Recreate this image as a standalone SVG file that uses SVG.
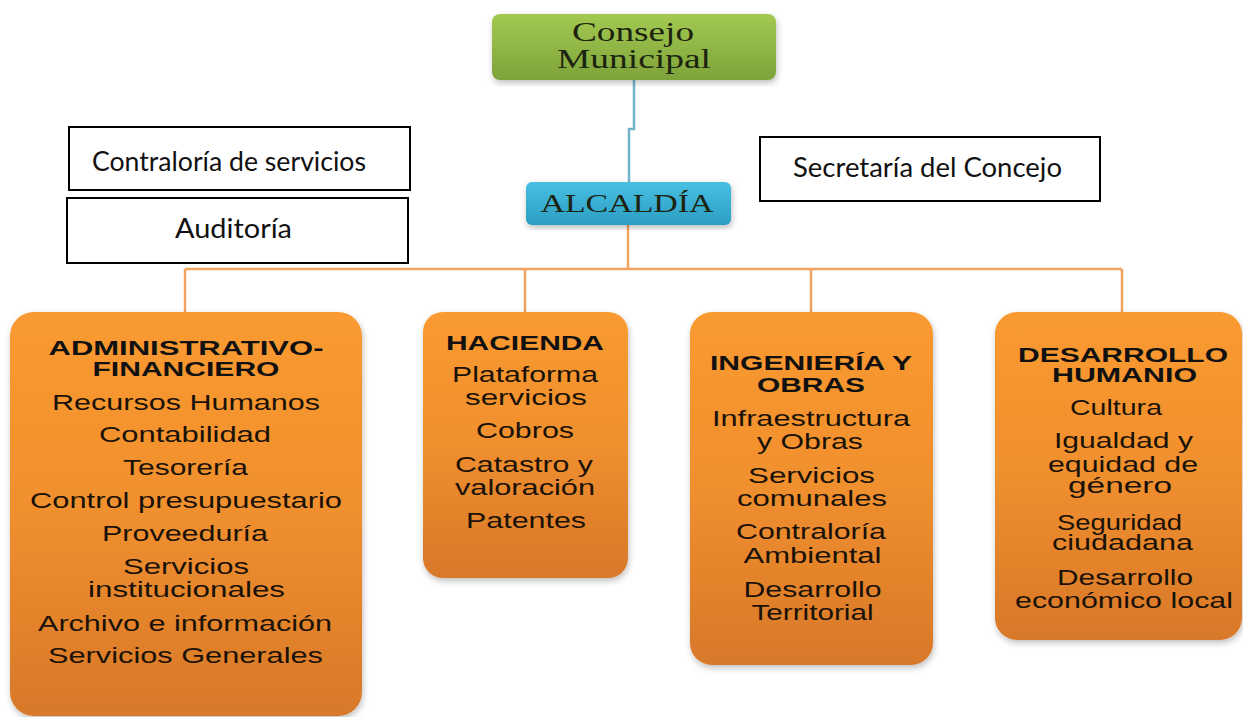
<svg xmlns="http://www.w3.org/2000/svg" width="1243" height="717" viewBox="0 0 1243 717">
<style>
.conn-blue{fill:none;stroke:#6fb3c9;stroke-width:2.5}
.conn-or{fill:none;stroke:#f0a35e;stroke-width:2.5}
.side{fill:#fff;stroke:#000;stroke-width:2}
.side-t{font-family:Lato,"Liberation Sans",sans-serif;font-size:27px;fill:#111}
.serif-t{font-family:"Liberation Serif","DejaVu Serif",serif;fill:#1c2410}
.dept{fill:url(#gOr);filter:url(#sh)}
.b{font-family:"Liberation Sans",Arial,sans-serif;font-weight:bold;font-size:21px;fill:#111;text-anchor:middle}
.r{font-family:"Liberation Sans",Arial,sans-serif;font-size:22px;fill:#1a1208;text-anchor:middle}
</style>
<defs>
<linearGradient id="gOr" x1="0" y1="0" x2="0" y2="1">
<stop offset="0" stop-color="#fa9a30"/>
<stop offset="0.5" stop-color="#f08f2e"/>
<stop offset="1" stop-color="#d8782a"/>
</linearGradient>
<linearGradient id="gGr" x1="0" y1="0" x2="0" y2="1">
<stop offset="0" stop-color="#a2c951"/>
<stop offset="1" stop-color="#7ea33a"/>
</linearGradient>
<linearGradient id="gBl" x1="0" y1="0" x2="0" y2="1">
<stop offset="0" stop-color="#48c0e2"/>
<stop offset="1" stop-color="#2b9dc3"/>
</linearGradient>
<filter id="sh" x="-10%" y="-10%" width="120%" height="120%">
<feDropShadow dx="1" dy="3" stdDeviation="3" flood-color="#000" flood-opacity="0.25"/>
</filter>
</defs>

<g id="connectors">
<path class="conn-blue" d="M634,80 V129 H629 V182"/>
<path class="conn-or" d="M628,225 V269"/>
<path class="conn-or" d="M185,269 H1122"/>
<path class="conn-or" d="M185,269 V312"/>
<path class="conn-or" d="M525,269 V312"/>
<path class="conn-or" d="M811,269 V312"/>
<path class="conn-or" d="M1122,269 V312"/>
</g>

<g id="consejo">
<rect x="492" y="14" width="284" height="66" rx="8" fill="url(#gGr)" filter="url(#sh)"/>
<text class="serif-t" x="633" y="41" font-size="28" text-anchor="middle" textLength="122" lengthAdjust="spacingAndGlyphs">Consejo</text>
<text class="serif-t" x="634" y="68" font-size="28" text-anchor="middle" textLength="154" lengthAdjust="spacingAndGlyphs">Municipal</text>
</g>

<g id="alcaldia">
<rect x="526" y="182" width="205" height="43" rx="6" fill="url(#gBl)" filter="url(#sh)"/>
<text class="serif-t" x="627" y="212" font-size="25" text-anchor="middle" textLength="173" lengthAdjust="spacingAndGlyphs" fill="#10283a">ALCALDÍA</text>
</g>

<g id="contraloria">
<rect class="side" x="69" y="127" width="341" height="63"/>
<text class="side-t" x="92" y="171" textLength="274" lengthAdjust="spacingAndGlyphs">Contraloría de servicios</text>
</g>

<g id="auditoria">
<rect class="side" x="67" y="198" width="341" height="65"/>
<text class="side-t" x="233.5" y="238" text-anchor="middle" textLength="117" lengthAdjust="spacingAndGlyphs">Auditoría</text>
</g>

<g id="secretaria">
<rect class="side" x="760" y="137" width="340" height="64"/>
<text class="side-t" x="793" y="177" textLength="269" lengthAdjust="spacingAndGlyphs">Secretaría del Concejo</text>
</g>

<g id="administrativo">
<rect class="dept" x="10" y="312" width="352" height="404" rx="24"/>
<text class="b" x="186" y="355" textLength="275" lengthAdjust="spacingAndGlyphs">ADMINISTRATIVO-</text>
<text class="b" x="186" y="376" textLength="187" lengthAdjust="spacingAndGlyphs">FINANCIERO</text>
<text class="r" x="186" y="410" textLength="268" lengthAdjust="spacingAndGlyphs">Recursos Humanos</text>
<text class="r" x="185" y="442" textLength="172" lengthAdjust="spacingAndGlyphs">Contabilidad</text>
<text class="r" x="185.5" y="475" textLength="125" lengthAdjust="spacingAndGlyphs">Tesorería</text>
<text class="r" x="186" y="508" textLength="312" lengthAdjust="spacingAndGlyphs">Control presupuestario</text>
<text class="r" x="185" y="541" textLength="166" lengthAdjust="spacingAndGlyphs">Proveeduría</text>
<text class="r" x="186" y="574" textLength="126" lengthAdjust="spacingAndGlyphs">Servicios</text>
<text class="r" x="186.5" y="597" textLength="197" lengthAdjust="spacingAndGlyphs">institucionales</text>
<text class="r" x="185" y="631" textLength="294" lengthAdjust="spacingAndGlyphs">Archivo e información</text>
<text class="r" x="185.5" y="663" textLength="275" lengthAdjust="spacingAndGlyphs">Servicios Generales</text>
</g>

<g id="hacienda">
<rect class="dept" x="423" y="312" width="205" height="266" rx="20"/>
<text class="b" x="525" y="350" textLength="158" lengthAdjust="spacingAndGlyphs">HACIENDA</text>
<text class="r" x="525" y="382" textLength="146" lengthAdjust="spacingAndGlyphs">Plataforma</text>
<text class="r" x="526" y="405" textLength="122" lengthAdjust="spacingAndGlyphs">servicios</text>
<text class="r" x="525" y="438" textLength="98" lengthAdjust="spacingAndGlyphs">Cobros</text>
<text class="r" x="524" y="472" textLength="138" lengthAdjust="spacingAndGlyphs">Catastro y</text>
<text class="r" x="525" y="495" textLength="140" lengthAdjust="spacingAndGlyphs">valoración</text>
<text class="r" x="526" y="528" textLength="120" lengthAdjust="spacingAndGlyphs">Patentes</text>
</g>

<g id="ingenieria">
<rect class="dept" x="690" y="312" width="243" height="353" rx="22"/>
<text class="b" x="811" y="370" textLength="202" lengthAdjust="spacingAndGlyphs">INGENIERÍA Y</text>
<text class="b" x="811" y="392" textLength="108" lengthAdjust="spacingAndGlyphs">OBRAS</text>
<text class="r" x="811" y="426" textLength="198" lengthAdjust="spacingAndGlyphs">Infraestructura</text>
<text class="r" x="810" y="449" textLength="106" lengthAdjust="spacingAndGlyphs">y Obras</text>
<text class="r" x="811.5" y="483" textLength="127" lengthAdjust="spacingAndGlyphs">Servicios</text>
<text class="r" x="812" y="506" textLength="150" lengthAdjust="spacingAndGlyphs">comunales</text>
<text class="r" x="811" y="539" textLength="150" lengthAdjust="spacingAndGlyphs">Contraloría</text>
<text class="r" x="812.5" y="563" textLength="138" lengthAdjust="spacingAndGlyphs">Ambiental</text>
<text class="r" x="812.5" y="597" textLength="138" lengthAdjust="spacingAndGlyphs">Desarrollo</text>
<text class="r" x="812.5" y="620" textLength="122" lengthAdjust="spacingAndGlyphs">Territorial</text>
</g>

<g id="desarrollo">
<rect class="dept" x="995" y="312" width="247" height="328" rx="22"/>
<text class="b" x="1123" y="362" textLength="210" lengthAdjust="spacingAndGlyphs">DESARROLLO</text>
<text class="b" x="1124.5" y="382" textLength="145" lengthAdjust="spacingAndGlyphs">HUMANIO</text>
<text class="r" x="1116" y="415" textLength="92" lengthAdjust="spacingAndGlyphs">Cultura</text>
<text class="r" x="1123.5" y="448" textLength="139" lengthAdjust="spacingAndGlyphs">Igualdad y</text>
<text class="r" x="1123" y="472" textLength="150" lengthAdjust="spacingAndGlyphs">equidad de</text>
<text class="r" x="1120" y="493" textLength="104" lengthAdjust="spacingAndGlyphs">género</text>
<text class="r" x="1119.5" y="530" textLength="125" lengthAdjust="spacingAndGlyphs">Seguridad</text>
<text class="r" x="1122.5" y="550" textLength="141" lengthAdjust="spacingAndGlyphs">ciudadana</text>
<text class="r" x="1125" y="585" textLength="136" lengthAdjust="spacingAndGlyphs">Desarrollo</text>
<text class="r" x="1124" y="608" textLength="218" lengthAdjust="spacingAndGlyphs">económico local</text>
</g>
</svg>
